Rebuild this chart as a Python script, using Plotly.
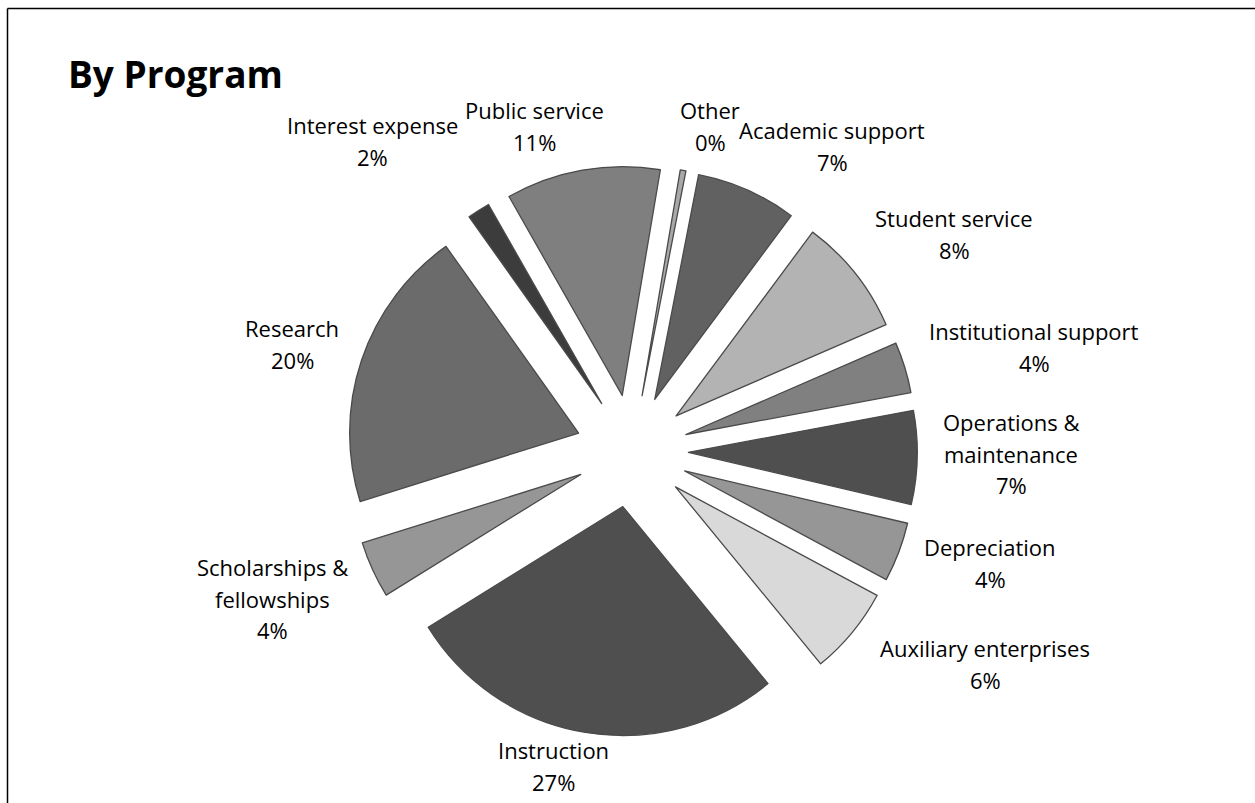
import plotly.graph_objects as go

# ---- data (clockwise from ~12 o'clock) ----
categories = ["Other", "Academic support", "Student service", "Institutional support",
              "Operations & maintenance", "Depreciation", "Auxiliary enterprises",
              "Instruction", "Scholarships & fellowships", "Research",
              "Interest expense", "Public service"]
shares = [0.4, 7.1, 8.3, 3.6, 6.6, 4.2, 6.2, 27.1, 4.0, 20.0, 1.6, 10.9]

# ---- styles ----
slice_colors = ["#a8a8a8", "#616161", "#b3b3b3", "#808080", "#4f4f4f", "#969696",
                "#d9d9d9", "#4f4f4f", "#969696", "#6b6b6b", "#3c3c3c", "#7f7f7f"]

W, H = 1255, 803
FONT = "Open Sans"

# label layout: (lines, center x px, first-line y px)
label_lines = {
    "Other": ["Other"],
    "Academic support": ["Academic support"],
    "Student service": ["Student service"],
    "Institutional support": ["Institutional support"],
    "Operations & maintenance": ["Operations &", "maintenance"],
    "Depreciation": ["Depreciation"],
    "Auxiliary enterprises": ["Auxiliary enterprises"],
    "Instruction": ["Instruction"],
    "Scholarships & fellowships": ["Scholarships &", "fellowships"],
    "Research": ["Research"],
    "Interest expense": ["Interest expense"],
    "Public service": ["Public service"],
}
label_pos = {
    "Other": (710, 110),
    "Academic support": (832, 130),
    "Student service": (954, 218),
    "Institutional support": (1034, 331),
    "Operations & maintenance": (1011, 422),
    "Depreciation": (990, 547),
    "Auxiliary enterprises": (985, 648),
    "Instruction": (553, 750),
    "Scholarships & fellowships": (272, 567),
    "Research": (292, 328),
    "Interest expense": (372, 125),
    "Public service": (534, 110),
}
LINE_GAP = 31.5

total = sum(shares)

fig = go.Figure(go.Pie(
    labels=categories,
    values=shares,
    sort=False,
    direction="clockwise",
    rotation=9.6,
    pull=0.246,
    marker=dict(colors=slice_colors, line=dict(color="#4a4a4a", width=1.3)),
    textinfo="none",
    hoverinfo="label+percent",
    showlegend=False,
    domain=dict(x=[346.7 / W, 917.3 / W], y=[1 - 736.3 / H, 1 - 165.7 / H]),
))

annotations = []
for cat, val in zip(categories, shares):
    lines = label_lines[cat] + [f"{round(val / total * 100):.0f}%"]
    cx, cy = label_pos[cat]
    for i, ln in enumerate(lines):
        annotations.append(dict(
            x=cx / W, y=1 - (cy + i * LINE_GAP) / H, xref="paper", yref="paper",
            text=ln, showarrow=False, xanchor="center", yanchor="middle",
            font=dict(family=FONT, size=22, color="#000000"),
        ))

annotations.append(dict(
    x=66 / W, y=1 - 73 / H, xref="paper", yref="paper", text="<b>By Program</b>",
    showarrow=False, xanchor="left", yanchor="middle",
    font=dict(family=FONT, size=37, color="#000000"),
))

fig.update_layout(
    width=W, height=H,
    margin=dict(l=0, r=0, t=0, b=0),
    paper_bgcolor="white", plot_bgcolor="white",
    annotations=annotations,
    shapes=[
        dict(type="line", xref="paper", yref="paper", x0=7.5 / W, x1=1.01, y0=1 - 8.5 / H, y1=1 - 8.5 / H,
             line=dict(color="black", width=1.5)),
        dict(type="line", xref="paper", yref="paper", x0=7.5 / W, x1=7.5 / W, y0=1 - 8.5 / H, y1=-0.01,
             line=dict(color="black", width=1.5)),
    ],
)

fig.write_html("out.html",
               config={"displayModeBar": False},
               post_script="document.body.style.margin='0';document.body.style.overflow='hidden';")
